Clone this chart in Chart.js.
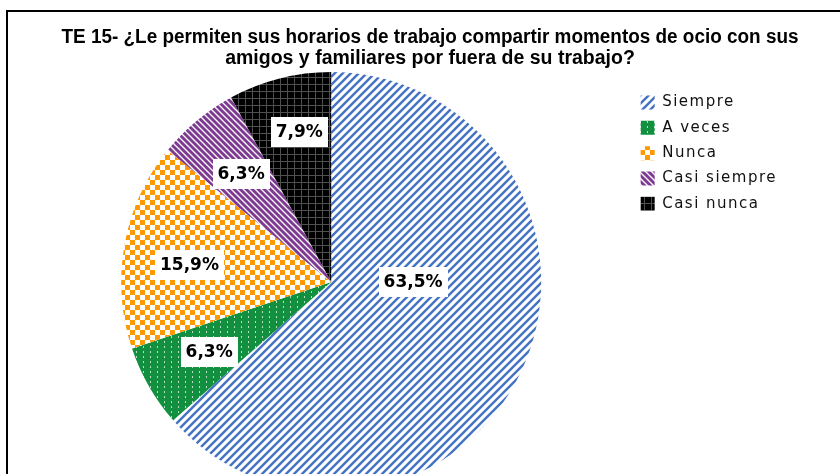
<!DOCTYPE html>
<html lang="es">
<head>
<meta charset="utf-8">
<title>TE 15 - Horarios de trabajo y ocio</title>
<script src="https://cdn.jsdelivr.net/npm/chart.js@4.4.1/dist/chart.umd.min.js"></script>
<style>
  html, body { margin: 0; padding: 0; background: #fff; overflow: hidden; }
  #wrap { position: relative; width: 840px; height: 474px; overflow: hidden; }
  #frame { position: absolute; left: 6px; top: 10px; width: 900px; height: 600px; border: 2px solid #000; box-sizing: border-box; }
  #chart { position: absolute; left: 0; top: 0; }
</style>
</head>
<body>
<div id="wrap">
  <div id="frame"></div>
  <canvas id="chart" width="840" height="500"></canvas>
</div>
<script>
const titleLines = [
    'TE 15- ¿Le permiten sus horarios de trabajo compartir momentos de ocio con sus',
    'amigos y familiares por fuera de su trabajo?'
];
const categories = ['Siempre', 'A veces', 'Nunca', 'Casi siempre', 'Casi nunca'];
const percentages = [63.5, 6.3, 15.9, 6.3, 7.9];

// Small tiles repeated as fill patterns (Excel-style hatching)
function makePattern(w, h, paint) {
    const c = document.createElement('canvas');
    c.width = w;
    c.height = h;
    const g = c.getContext('2d');
    paint(g, w, h);
    return g.createPattern(c, 'repeat');
}

const blueStripes = makePattern(8, 8, (g, w, h) => {
    g.fillStyle = '#fff';
    g.fillRect(0, 0, w, h);
    g.strokeStyle = '#4472c4';
    g.lineWidth = 2.4;
    g.beginPath();
    [-w, 0, w].forEach(o => { g.moveTo(o - 1, h + 1); g.lineTo(o + w + 1, -1); });
    g.stroke();
});

const greenDots = makePattern(7, 5, (g, w, h) => {
    g.fillStyle = '#12903f';
    g.fillRect(0, 0, w, h);
    g.fillStyle = 'rgba(255,255,255,0.7)';
    g.fillRect(3, 1, 1, 2);
});

const orangeChecks = makePattern(10, 10, (g, w, h) => {
    g.fillStyle = '#fff';
    g.fillRect(0, 0, w, h);
    g.fillStyle = '#ff9900';
    g.fillRect(0, 0, 5, 5);
    g.fillRect(5, 5, 5, 5);
});

const purpleStripes = makePattern(6, 6, (g, w, h) => {
    g.fillStyle = '#7e3a93';
    g.fillRect(0, 0, w, h);
    g.strokeStyle = '#fff';
    g.lineWidth = 1.3;
    g.beginPath();
    [-w, 0, w].forEach(o => { g.moveTo(o - 1, -1); g.lineTo(o + w + 1, h + 1); });
    g.stroke();
});

const blackGrid = makePattern(7, 7, (g, w, h) => {
    g.fillStyle = '#000';
    g.fillRect(0, 0, w, h);
    g.fillStyle = '#505050';
    g.fillRect(0, 0, w, 1);
    g.fillRect(0, 0, 1, h);
});

// Move the title so it is centred over the whole frame, not the padded area
const titleShift = {
    id: 'titleShift',
    afterLayout(chart, args, opts) {
        const t = chart.titleBlock;
        if (!t) return;
        const d = opts.centerX - (t.left + t.right) / 2;
        t.left += d;
        t.right += d;
    }
};

// Legend text in the reference is loosely spaced; widen the clip so it fits
const legendSpacing = {
    id: 'legendSpacing',
    beforeDraw(chart, args, opts) {
        const lg = chart.legend;
        if (!lg || lg._spaced) return;
        const draw = lg.draw.bind(lg);
        lg.draw = function () {
            const right = lg.right;
            lg.right = chart.width;
            chart.ctx.save();
            chart.ctx.letterSpacing = opts.spacing;
            draw();
            chart.ctx.restore();
            lg.right = right;
        };
        lg._spaced = true;
    }
};

// White boxed percentage labels inside each slice
const sliceLabels = {
    id: 'sliceLabels',
    afterDatasetsDraw(chart, args, opts) {
        const ctx = chart.ctx;
        const values = chart.data.datasets[0].data;
        chart.getDatasetMeta(0).data.forEach((arc, i) => {
            const p = arc.getProps(['x', 'y', 'startAngle', 'endAngle', 'outerRadius'], true);
            const place = opts.placement[i] || {};
            const angle = place.angle !== undefined
                ? (place.angle - 90) * Math.PI / 180
                : (p.startAngle + p.endAngle) / 2;
            const r = p.outerRadius * (place.r || opts.radius);
            const cx = p.x + Math.cos(angle) * r;
            const cy = p.y + Math.sin(angle) * r;
            const text = values[i].toFixed(1).replace('.', ',') + '%';

            ctx.save();
            ctx.font = opts.font;
            const w = ctx.measureText(text).width + opts.padX * 2;
            ctx.fillStyle = '#fff';
            ctx.fillRect(Math.round(cx - w / 2), Math.round(cy - opts.boxH / 2), Math.round(w), opts.boxH);
            ctx.fillStyle = '#000';
            ctx.textAlign = 'center';
            ctx.textBaseline = 'middle';
            ctx.fillText(text, cx, cy + 1);
            ctx.restore();
        });
    }
};

new Chart(document.getElementById('chart'), {
    type: 'pie',
    data: {
        labels: categories,
        datasets: [{
            data: percentages,
            backgroundColor: [blueStripes, greenDots, orangeChecks, purpleStripes, blackGrid],
            borderWidth: 0
        }]
    },
    options: {
        responsive: false,
        animation: false,
        layout: { padding: { top: 0, left: 32, right: 71, bottom: 8 } },
        plugins: {
            title: {
                display: true,
                text: titleLines,
                color: '#000',
                font: { family: "'Liberation Sans', Arial, sans-serif", size: 19.5, weight: 'bold', lineHeight: 1.07 },
                padding: { top: 27.5, bottom: 2.8 }
            },
            legend: {
                position: 'right',
                align: 'start',
                fullSize: false,
                title: { display: true, text: ' ', font: { size: 1 }, padding: { top: 11.5, bottom: 0 } },
                labels: {
                    boxWidth: 14,
                    boxHeight: 14,
                    padding: 10.3,
                    color: '#111',
                    font: { family: "'DejaVu Sans', Verdana, sans-serif", size: 15 }
                }
            },
            tooltip: { enabled: false },
            titleShift: { centerX: 430 },
            legendSpacing: { spacing: '1.5px' },
            sliceLabels: {
                font: "bold 17px 'DejaVu Sans', Verdana, sans-serif",
                padX: 5,
                boxH: 30,
                radius: 0.67,
                placement: [{ angle: 90, r: 0.39 }, null, { angle: 277, r: 0.68 }, null, { angle: 348, r: 0.73 }]
            }
        }
    },
    plugins: [titleShift, legendSpacing, sliceLabels]
});
</script>
</body>
</html>
